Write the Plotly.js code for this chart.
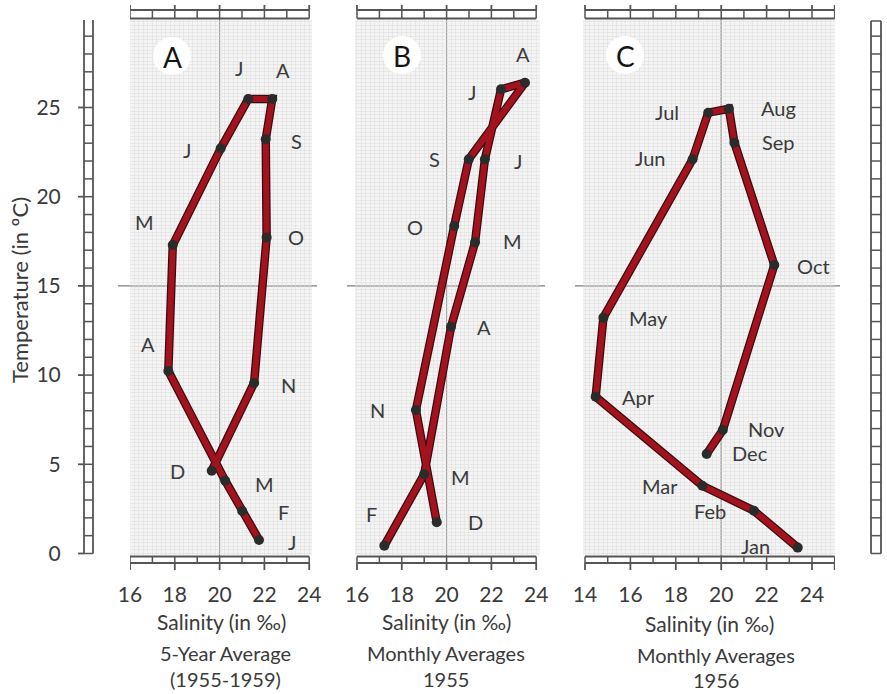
<!DOCTYPE html>
<html><head><meta charset="utf-8">
<script src="https://cdn.plot.ly/plotly-3.0.1.min.js"></script>
<style>html,body{margin:0;padding:0;background:#fff}#chart{width:887px;height:694px}</style>
</head><body><div id="chart"></div>
<script>
// ---------- data ----------
const monthsA = ['J','F','M','A','M','J','J','A','S','O','N','D'];
const salinityA = [21.76, 21.01, 20.25, 17.71, 17.91, 20.05, 21.28, 22.35, 22.06, 22.10, 21.54, 19.65];
const temperatureA = [0.76, 2.38, 4.08, 10.23, 17.29, 22.71, 25.48, 25.48, 23.22, 17.72, 9.56, 4.64];

const monthsB = ['F','M','A','M','J','J','A','S','O','N','D'];
const salinityB = [17.22, 19.00, 20.20, 21.27, 21.71, 22.43, 23.50, 20.99, 20.34, 18.63, 19.56];
const temperatureB = [0.44, 4.44, 12.71, 17.44, 22.10, 26.02, 26.39, 22.10, 18.36, 8.04, 1.75];

const monthsC = ['Jan','Feb','Mar','Apr','May','Jun','Jul','Aug','Sep','Oct','Nov','Dec'];
const salinityC = [23.37, 21.44, 19.17, 14.47, 14.81, 18.74, 19.43, 20.34, 20.58, 22.34, 20.07, 19.36];
const temperatureC = [0.33, 2.40, 3.80, 8.79, 13.22, 22.10, 24.71, 24.93, 23.03, 16.17, 6.92, 5.58];

const xTicksAB = [16, 18, 20, 22, 24];
const xTicksC = [14, 16, 18, 20, 22, 24];
const yTicks = [0, 5, 10, 15, 20, 25, 30];
const panelLetters = ['A', 'B', 'C'];
const xTitle = 'Salinity (in ‰)';
const yTitle = 'Temperature (in ºC)';
const subtitlesA = ['5-Year Average', '(1955-1959)'];
const subtitlesB = ['Monthly Averages', '1955'];
const subtitlesC = ['Monthly Averages', '1956'];

// ---------- style / layout helpers ----------
const W = 887, H = 694;
const px = v => v / W;
const py = v => 1 - v / H;
const FONT = 'Lato, "Open Sans", sans-serif';
const TXT = '#3a3a3a';
const RULE = '#555555';

// label offsets in screen pixels (dx right, dy down)
const offA = [[33,2],[41,1],[39,3],[-20,-27],[-28,-23],[-34,2],[-9,-31],[11,-29],[31,2],[29,0],[34,2],[-34,0]];
const offB = [[-13,-32],[36,3],[33,0],[37,-1],[33,2],[-29,3],[-2,-29],[-34,0],[-39,1],[-38,0],[39,0]];
const offC = [[-42,-2],[-44,0],[-42,0],[43,0],[45,0],[-43,-1],[-41,-1],[50,-1],[44,-1],[39,1],[44,-1],[43,-1]];

const panels = [
  {xa:'x',  ya:'y',  dom:[130,312], range:[16, 24.125], ruler:[16,24], ticks:xTicksAB, sal:salinityA, tmp:temperatureA, m:monthsA, off:offA, badge:[172,56], subs:subtitlesA, tc:221, sc:225, ty:[621,653,679]},
  {xa:'x2', ya:'y2', dom:[355,540], range:[15.911, 24.17], ruler:[16,24], ticks:xTicksAB, sal:salinityB, tmp:temperatureB, m:monthsB, off:offB, badge:[402,55], subs:subtitlesB, tc:446, sc:446, ty:[621,653,679]},
  {xa:'x3', ya:'y3', dom:[583,835], range:[13.912, 25.013], ruler:[14,25], ticks:xTicksC, sal:salinityC, tmp:temperatureC, m:monthsC, off:offC, badge:[625,55], subs:subtitlesC, tc:709, sc:716, ty:[623,655,680]}
];

const yRange = [-0.084, 29.905];
const yDom = [py(555), py(20)];

const layout = {
  width: W, height: H,
  margin: {l:0, r:0, t:0, b:0, pad:0},
  paper_bgcolor: '#ffffff',
  plot_bgcolor: '#f4f4f4',
  showlegend: false,
  hovermode: false,
  font: {family: FONT, color: TXT},
  shapes: [], annotations: []
};

const traces = [];
const shp = (o) => layout.shapes.push(Object.assign({type:'line', layer:'above', line:{color:RULE, width:1.6}}, o));

panels.forEach((p, i) => {
  const n = i === 0 ? '' : String(i + 1);
  layout['xaxis' + n] = {
    domain: [px(p.dom[0]), px(p.dom[1])], range: p.range, anchor: p.ya,
    tickmode: 'array', tickvals: p.ticks, ticks: 'outside', ticklen: 21, tickcolor: 'rgba(0,0,0,0)',
    tickfont: {size: 21, color: TXT, family: FONT},
    showgrid: false, zeroline: false, showline: false, fixedrange: true,
    minor: {tickmode:'linear', tick0: 0, dtick: 0.2, showgrid: true, gridcolor: '#dcdcdc', gridwidth: 0.5, ticks: ''}
  };
  layout['yaxis' + n] = {
    domain: yDom, range: yRange, anchor: p.xa,
    showticklabels: false, ticks: '', showgrid: false, zeroline: false, showline: false, fixedrange: true,
    tickmode: 'array', tickvals: yTicks,
    minor: {tickmode:'linear', tick0: 0, dtick: 0.2, showgrid: true, gridcolor: '#dcdcdc', gridwidth: 0.5, ticks: ''}
  };

  // reference lines at 20 ‰ and 15 ºC
  shp({layer:'below', xref:p.xa, yref:'paper', x0:20, x1:20, y0:py(556), y1:py(18), line:{color:'#5e5e5e', width:1}});
  shp({layer:'below', xref:'paper', yref:p.ya, x0:px(p.dom[0] - (i === 0 ? 12 : 8)), x1:px(p.dom[1] + 5), y0:15, y1:15, line:{color:'#5e5e5e', width:1}});

  // top & bottom rulers
  const [r0, r1] = p.ruler;
  [[10,18.5,5],[556.5,563,570]].forEach(([a, b, ext], k) => {
    shp({xref:p.xa, yref:'paper', x0:r0, x1:r1, y0:py(a), y1:py(a), line:{color:RULE, width:1.8}});
    shp({xref:p.xa, yref:'paper', x0:r0, x1:r1, y0:py(b), y1:py(b), line:{color:RULE, width:1.8}});
    for (let v = r0; v <= r1; v++) {
      shp({xref:p.xa, yref:'paper', x0:v, x1:v, y0:py(a), y1:py(b), line:{color:RULE, width:1.5}});
      if (v % 2 === 0 || v === r1) {
        const e0 = k === 0 ? a : b;
        shp({xref:p.xa, yref:'paper', x0:v, x1:v, y0:py(e0), y1:py(ext), line:{color:RULE, width:1.8}});
      }
    }
  });

  // panel badge
  const [bx, by] = p.badge;
  shp({type:'circle', xref:'paper', yref:'paper', x0:px(bx-19), x1:px(bx+19), y0:py(by+19), y1:py(by-19), fillcolor:'#ffffff', line:{width:0}});
  layout.annotations.push({xref:'paper', yref:'paper', x:px(bx), y:py(by+1), text:panelLetters[i], showarrow:false,
    font:{size:28, color:'#151515', family:FONT}, xanchor:'center', yanchor:'middle'});

  // traces
  traces.push({type:'scatter', mode:'lines', x:p.sal, y:p.tmp, xaxis:p.xa, yaxis:p.ya,
    line:{color:'#3c0a0c', width:8.5}, hoverinfo:'skip', cliponaxis:false});
  traces.push({type:'scatter', mode:'lines+markers', x:p.sal, y:p.tmp, xaxis:p.xa, yaxis:p.ya,
    line:{color:'#a3121f', width:6}, marker:{size:10, color:'#2b2b2b'}, hoverinfo:'skip', cliponaxis:false});

  // month labels
  p.m.forEach((t, j) => {
    layout.annotations.push({xref:p.xa, yref:p.ya, x:p.sal[j], y:p.tmp[j], text:t, showarrow:false,
      xshift:p.off[j][0], yshift:-p.off[j][1], xanchor:'center', yanchor:'middle',
      font:{size:20, color:TXT, family:FONT}});
  });

  // titles below
  layout.annotations.push({xref:'paper', yref:'paper', x:px(p.tc), y:py(p.ty[0]), text:xTitle, showarrow:false,
    xanchor:'center', yanchor:'middle', font:{size:21, color:TXT, family:FONT}});
  p.subs.forEach((s, k) => {
    layout.annotations.push({xref:'paper', yref:'paper', x:px(p.sc), y:py(p.ty[k+1]), text:s, showarrow:false,
      xanchor:'center', yanchor:'middle', font:{size:20, color:TXT, family:FONT}});
  });
});

// free y axis carrying the temperature tick labels
layout.yaxis4 = {overlaying:'y', anchor:'free', position:px(78), side:'left', range:yRange,
  tickmode:'array', tickvals:yTicks, ticks:'outside', ticklen:13, tickcolor:'rgba(0,0,0,0)',
  tickfont:{size:21, color:TXT, family:FONT}, showgrid:false, zeroline:false, showline:false, fixedrange:true};
traces.push({type:'scatter', mode:'markers', x:[null], y:[null], xaxis:'x', yaxis:'y4', hoverinfo:'skip', marker:{opacity:0}});

layout.annotations.push({xref:'paper', yref:'paper', x:px(19), y:py(290), text:yTitle, textangle:-90, showarrow:false,
  xanchor:'center', yanchor:'middle', font:{size:22, color:TXT, family:FONT}});

// temperature rulers (left and right)
[[84,93,0,30,78],[871,881,0,29.85,null]].forEach(([a, b, t0, t1, ext]) => {
  shp({xref:'paper', yref:'y', x0:px(a), x1:px(a), y0:t0, y1:t1, line:{color:RULE, width:1.8}});
  shp({xref:'paper', yref:'y', x0:px(b), x1:px(b), y0:t0, y1:t1, line:{color:RULE, width:1.8}});
  for (let t = t0; t <= Math.floor(t1); t++) {
    shp({xref:'paper', yref:'y', x0:px(a), x1:px(b), y0:t, y1:t, line:{color:RULE, width:1.5}});
    if (ext !== null && t % 5 === 0) shp({xref:'paper', yref:'y', x0:px(ext), x1:px(a), y0:t, y1:t, line:{color:RULE, width:1.8}});
  }
  if (t1 % 1 !== 0) shp({xref:'paper', yref:'y', x0:px(a), x1:px(b), y0:t1, y1:t1, line:{color:RULE, width:1.5}});
});

Plotly.newPlot('chart', traces, layout, {staticPlot:true, displayModeBar:false});
</script>
</body></html>
